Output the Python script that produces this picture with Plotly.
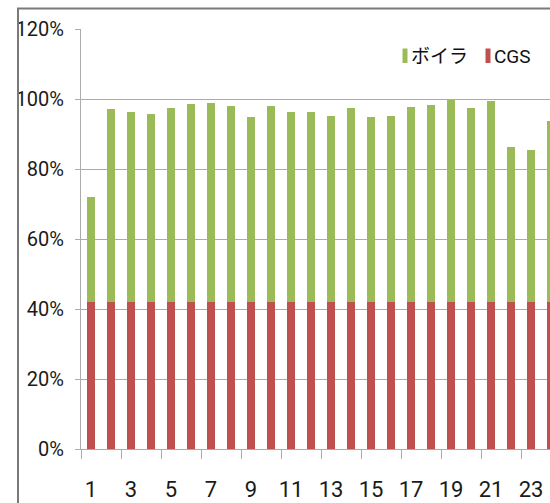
import plotly.graph_objects as go

# Hours 1..24 (last one runs off the right edge of the frame)
hours = [str(h) for h in range(1, 25)]

# Share of demand covered by CGS (constant base) and by the boiler on top (%)
cgs = [42] * 24
total = [72, 97.1, 96.4, 95.6, 97.5, 98.6, 98.9, 97.9, 94.9, 97.9,
         96.4, 96.4, 95.2, 97.4, 94.9, 95.2, 97.8, 98.2, 99.7, 97.4,
         99.3, 86.2, 85.4, 93.8]
boiler = [round(t - c, 1) for t, c in zip(total, cgs)]

GREEN = "#9BBB59"
RED = "#C0504D"
GRID = "#ababab"
FRAME = "#7a7a7a"
FONT = "Roboto, 'Noto Sans CJK JP', sans-serif"

fig = go.Figure()
fig.add_trace(go.Bar(x=hours, y=cgs, name="CGS", marker=dict(color=RED, line=dict(width=0))))
fig.add_trace(go.Bar(x=hours, y=boiler, name="ボイラ", marker=dict(color=GREEN, line=dict(width=0))))

# plot area in pixels: x 81..550, y 29..449
L, R, T, B = 81, 550, 29, 449
W, H = R - L, B - T


def px_x(p):
    return (p - L) / W


def px_y(p):
    return (B - p) / H


shapes = [
    # outer chart frame (its right and bottom edges lie outside the page)
    dict(type="rect", xref="paper", yref="paper", layer="above",
         x0=px_x(18), x1=px_x(600), y0=px_y(560), y1=px_y(8.5),
         fillcolor="rgba(0,0,0,0)", line=dict(color=FRAME, width=2)),
    # white patch behind the legend that interrupts the top gridline
    dict(type="rect", xref="paper", yref="paper", layer="above",
         x0=px_x(383), x1=px_x(543), y0=px_y(35), y1=px_y(22),
         fillcolor="white", line=dict(width=0)),
]
annotations = []

# compact legend: narrow colour key followed by the series name
legend_items = [("ボイラ", GREEN, 402.5), ("CGS", RED, 485.5)]
for name, color, x0 in legend_items:
    shapes.append(dict(type="rect", xref="paper", yref="paper", layer="above",
                       x0=px_x(x0), x1=px_x(x0 + 5), y0=px_y(63), y1=px_y(48.5),
                       fillcolor=color, line=dict(width=0)))
    annotations.append(dict(text=name, xref="paper", yref="paper",
                            x=px_x(x0 + 7), y=px_y(56), xanchor="left", yanchor="middle",
                            showarrow=False, borderpad=0,
                            font=dict(size=19, family=FONT, color="#111")))

fig.update_layout(
    width=550, height=503,
    margin=dict(l=L, r=550 - R, t=T, b=503 - B),
    paper_bgcolor="white", plot_bgcolor="white",
    barmode="stack", bargap=0.58,
    font=dict(family=FONT, color="#1a1a1a"),
    showlegend=False,
    xaxis=dict(type="category", range=[-0.5, 22.95], tickson="boundaries", dtick=2,
               showgrid=False, showline=True, linecolor=GRID, linewidth=1,
               ticks="outside", ticklen=9, tickcolor=GRID, tickwidth=1, tickangle=0,
               tickfont=dict(size=22, family=FONT, color="#1a1a1a"), ticklabelstandoff=21),
    yaxis=dict(range=[0, 120], dtick=20, ticksuffix="%",
               showgrid=True, gridcolor=GRID, gridwidth=1,
               showline=True, linecolor=GRID, linewidth=1, zeroline=False,
               ticks="outside", ticklen=5, tickcolor=GRID, tickwidth=1,
               tickfont=dict(size=20, family=FONT, color="#1a1a1a"), ticklabelstandoff=7),
    shapes=shapes,
    annotations=annotations,
)

fig.write_html("out.html")
